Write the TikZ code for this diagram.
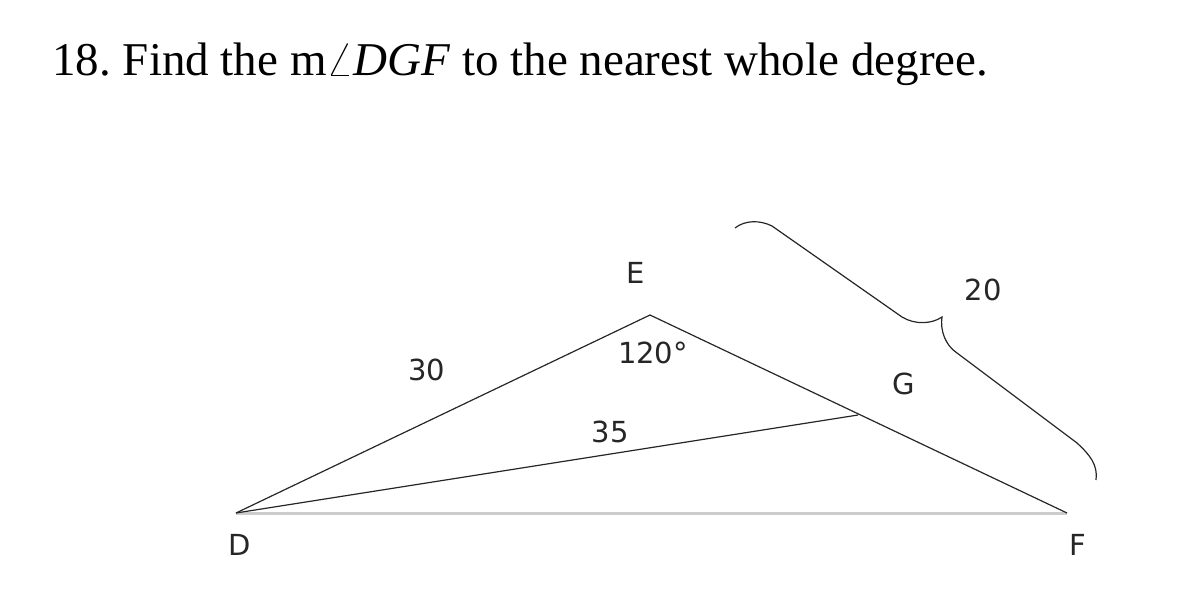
\documentclass[tikz,border=0pt]{standalone}
\usepackage{fontspec}
\setmainfont{Liberation Serif}
\newfontfamily\labelfont{DejaVu Sans}
\frenchspacing
\begin{document}
\begin{tikzpicture}[x=0.5pt,y=-0.5pt,
    lbl/.style={font=\labelfont\fontsize{14.5}{16}\selectfont, inner sep=0pt, text=black!85},
    side/.style={line width=0.6pt, black!85}]
    \useasboundingbox (0,0) rectangle (1183,599);

    \node[anchor=base west, inner sep=0pt, font=\fontsize{23.5}{27}\selectfont] (title) at (52,76)
      {18. Find the m$\angle$\textit{DGF} to the nearest whole degree.};

    \coordinate (D) at (236,513);
    \coordinate (E) at (650,315);
    \coordinate (F) at (1067,513);
    \coordinate (G) at (858,415);

    \draw[line width=1.5pt, black!20] (D) -- (F);
    \draw[side] (D) -- (E) -- (F);
    \draw[side] (D) -- (G);

    % brace over EF
    \draw[side] (735,228) .. controls (745,220) and (760,220) .. (772,226)
      -- (902,317) .. controls (915,325) and (932,324) .. (942,317)
      .. controls (940,330) and (945,345) .. (957,353)
      -- (1077,443) .. controls (1090,455) and (1098,465) .. (1096,480);

    \node[lbl] (lE) at (636,273) {E};
    \node[lbl] (lD) at (240,545) {D};
    \node[lbl] (lF) at (1078,545) {F};
    \node[lbl] (lG) at (904,384) {G};
    \node[lbl] (l30) at (427,370) {30};
    \node[lbl] (l35) at (610,432) {35};
    \node[lbl] (l20) at (983,290) {20};
    \node[lbl] (l120) at (653,353) {120°};
\end{tikzpicture}
\end{document}
